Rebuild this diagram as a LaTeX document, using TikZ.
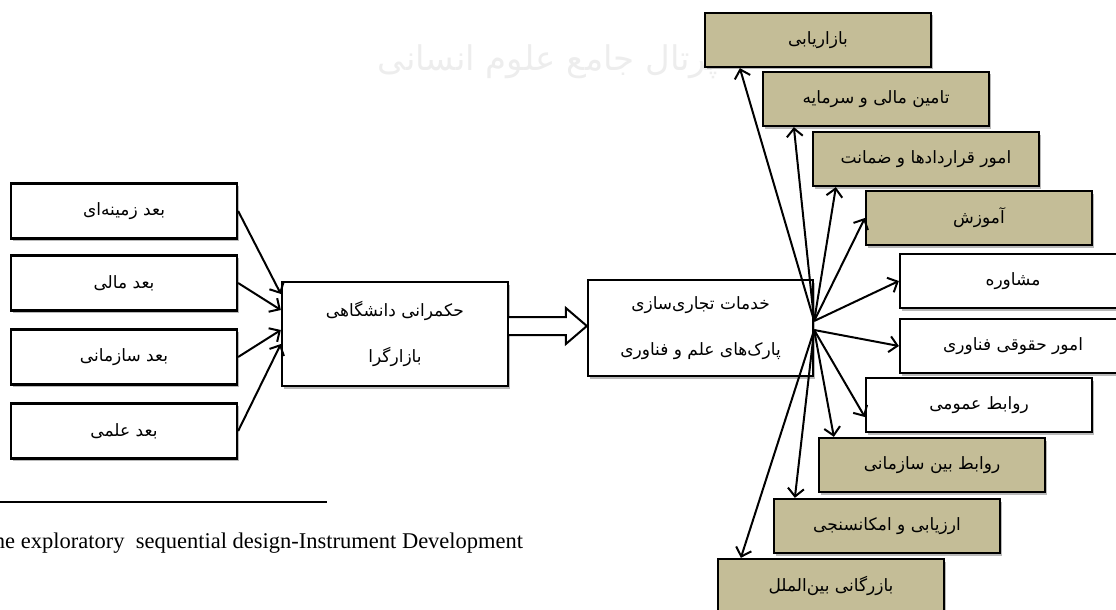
\documentclass[tikz,border=0pt]{standalone}
\usepackage{fontspec}
\usetikzlibrary{arrows.meta,calc,shadows}
\TeXXeTstate=1
\newfontfamily\farsifont[Script=Arabic]{DejaVu Sans}
\newfontfamily\latinfont{Liberation Serif}
\definecolor{khaki}{RGB}{196,189,151}
\newcommand{\fa}[1]{\beginR #1\endR}

\begin{document}
\begin{tikzpicture}[x=1pt,y=-1pt,
  box/.style={draw,line width=2.3pt,fill=white,minimum width=226pt,minimum height=55pt,inner sep=2pt,
    font=\farsifont\fontsize{17}{20}\selectfont,
    drop shadow={shadow xshift=1.5pt,shadow yshift=-2.5pt,fill=gray!55,opacity=1}},
  khakibox/.style={box,fill=khaki,minimum height=54pt},
  whitebox/.style={box,minimum height=54pt},
  bigbox/.style={box,align=center,font=\farsifont\fontsize{17}{46}\selectfont},
  link/.style={line width=2pt,-{Straight Barb[length=8pt,width=16pt,line width=2pt]}}]
\useasboundingbox (0,0) rectangle (1116,610);
\clip (0,0) rectangle (1116,610);
\node[text=gray!14,font=\farsifont\fontsize{34}{40}\selectfont] (logo) at (548,62) {\fa{پرتال جامع علوم انسانی}};

\node[box] (zamine) at (124,211) {\fa{بعد زمینه‌ای}};
\node[box] (mali) at (124,283) {\fa{بعد مالی}};
\node[box] (sazmani) at (124,357) {\fa{بعد سازمانی}};
\node[box] (elmi) at (124,431) {\fa{بعد علمی}};
\node[bigbox,minimum height=104pt] (hokm) at (395,334) {\fa{حکمرانی  دانشگاهی}\\\fa{بازارگرا}};
\node[bigbox,minimum width=225pt,minimum height=96pt] (khadamat) at (700.5,328) {\fa{خدمات  تجاری‌سازی}\\\fa{پارک‌های علم و فناوری}};

\node[khakibox] (bazaryabi) at (818,40) {\fa{بازاریابی}};
\node[khakibox] (tamin) at (876,99) {\fa{تامین مالی و سرمایه}};
\node[khakibox] (gharardad) at (926,159) {\fa{امور قراردادها و ضمانت}};
\node[khakibox] (amoozesh) at (979,218) {\fa{آموزش}};
\node[whitebox] (moshavere) at (1013,281) {\fa{مشاوره}};
\node[whitebox] (hoghoghi) at (1013,346) {\fa{امور حقوقی  فناوری}};
\node[whitebox] (omoomi) at (979,405) {\fa{روابط عمومی}};
\node[khakibox] (beyn) at (932,465) {\fa{روابط بین  سازمانی}};
\node[khakibox] (arzyabi) at (887,526) {\fa{ارزیابی و امکانسنجی}};
\node[khakibox] (bazargani) at (831,586) {\fa{بازرگانی بین‌الملل}};

\foreach \s/\d in {zamine/40,mali/24,sazmani/4,elmi/-10}
  \draw[link] (\s.east) -- ([yshift=\d pt]hokm.west);

\draw[line width=2pt,fill=white] ($(hokm.east |- khadamat.west)+(0,11pt)$) -- ($(khadamat.west)+(-21pt,11pt)$)
  -- ($(khadamat.west)+(-21pt,20pt)$) -- ($(khadamat.west)+(0,2pt)$) -- ($(khadamat.west)+(-21pt,-16pt)$)
  -- ($(khadamat.west)+(-21pt,-7pt)$) -- ($(hokm.east |- khadamat.west)+(0,-7pt)$);

\coordinate (hubup) at ([yshift=7pt]khadamat.east);
\coordinate (hubdown) at ([yshift=-2pt]khadamat.east);
\draw[link] (hubup) -- ([xshift=36pt]bazaryabi.south west);
\draw[link] (hubup) -- ([xshift=32pt]tamin.south west);
\draw[link] (hubup) -- ([xshift=24pt]gharardad.south west);
\draw[link] (hubup) -- (amoozesh.west);
\draw[link] (hubup) -- (moshavere.west);
\draw[link] (hubdown) -- (hoghoghi.west);
\draw[link] (hubdown) -- ([yshift=-12pt]omoomi.west);
\draw[link] (hubdown) -- ([xshift=16pt]beyn.north west);
\draw[link] (hubdown) -- ([xshift=22pt]arzyabi.north west);
\draw[link] (hubdown) -- ([xshift=24pt]bazargani.north west);

\draw[line width=2pt] (0,502) -- (327,502);
\node[anchor=base west,inner sep=0pt,font=\latinfont\fontsize{22.5}{28}\selectfont] (pavaraghi) at (-20,548) {The exploratory\ \ sequential design-Instrument Development};
\end{tikzpicture}
\end{document}
